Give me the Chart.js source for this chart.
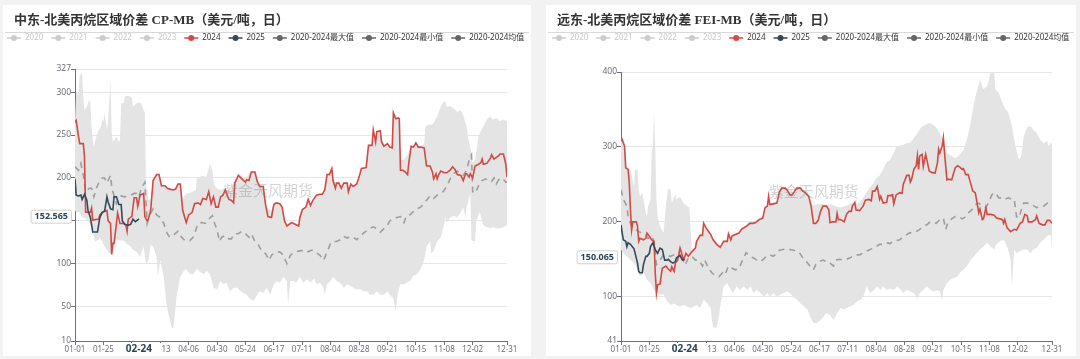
<!DOCTYPE html>
<html lang="zh">
<head>
<meta charset="utf-8">
<title>丙烷区域价差</title>
<script src="https://cdn.jsdelivr.net/npm/chart.js@4.4.1/dist/chart.umd.min.js"></script>
<style>
    html, body { margin: 0; padding: 0; background: #f2f2f2; }
    body { width: 1080px; height: 359px; position: relative; overflow: hidden; }
    .card { position: absolute; top: 5px; height: 351px; background: #fff; }
    #card-cp { left: 3px; width: 528px; }
    #card-fei { left: 546px; width: 530px; }
    canvas { display: block; }
</style>
</head>
<body>
<div class="card" id="card-cp"><canvas id="chart-cp"></canvas></div>
<div class="card" id="card-fei"><canvas id="chart-fei"></canvas></div>
<script>
// x axis: day of year (2024 calendar, day 0 = 01-01)
const xTickDays = [0, 24, 48, 72, 96, 120, 144, 168, 192, 216, 240, 264, 288, 312, 336, 365];
const xTickLabels = ['01-01', '01-25', '02-18', '03-13', '04-06', '04-30', '05-24', '06-17', '07-11',
    '08-04', '08-28', '09-21', '10-15', '11-08', '12-02', '12-31'];

const legendNames = ['2020', '2021', '2022', '2023', '2024', '2025', '2020-2024最大值', '2020-2024最小值', '2020-2024均值'];
const legendColors = ['#cccccc', '#cccccc', '#cccccc', '#cccccc', '#d14a45', '#34495a', '#666666', '#666666', '#666666'];
const legendActive = [false, false, false, false, true, true, true, true, true];

const watermarkText = '紫金天风期货';
const pointerDay = 54;
const pointerDayLabel = '02-24';

// ---- 中东-北美 CP-MB ----
const cpTitle = '中东-北美丙烷区域价差 CP-MB（美元/吨，日）';
const cpYTicks = [10, 50, 100, 150, 200, 250, 300, 327];
const cpPointer = 152.565;

const cp2024 = [[0,265],[1,267],[3,248],[4,240],[7,240],[8,225],[9,160],[13,160],[14,165],[15,151],[20,152],[21,157],
    [24,161],[27,162],[28,150],[30,147],[31,111],[32,124],[33,124],[34,135],[36,159],[38,147],[41,147],[43,145],[44,138],
    [45,152],[48,155],[50,177],[52,177],[53,167],[55,180],[58,182],[59,155],[61,150],[62,152],[64,163],[66,197],[69,204],
    [71,204],[73,191],[76,191],[78,188],[80,187],[83,186],[85,187],[87,193],[89,193],[91,162],[94,148],[96,157],[99,160],
    [101,170],[104,171],[106,169],[108,176],[111,175],[113,184],[115,170],[117,178],[119,166],[121,166],[123,178],[125,180],
    [127,186],[130,175],[132,174],[134,171],[135,194],[138,203],[141,199],[144,195],[145,198],[147,197],[149,207],[152,207],
    [154,196],[156,190],[159,190],[161,169],[163,155],[166,154],[168,169],[170,171],[173,170],[175,166],[177,150],[179,144],
    [183,148],[189,144],[190,154],[192,163],[195,166],[197,175],[199,168],[201,174],[204,180],[207,181],[209,181],[211,186],
    [213,204],[215,204],[217,211],[218,197],[220,188],[221,194],[223,194],[225,188],[227,194],[230,194],[231,184],[233,193],
    [235,190],[238,193],[240,201],[242,211],[246,212],[248,238],[251,238],[252,256],[254,242],[255,254],[258,255],[259,242],
    [261,237],[264,240],[266,236],[268,235],[269,276],[271,269],[273,270],[274,269],[275,209],[277,209],[279,207],[281,204],
    [282,217],[284,237],[286,236],[288,241],[290,236],[292,236],[295,235],[297,214],[300,214],[302,207],[303,199],[305,205],
    [306,199],[307,203],[309,208],[312,206],[314,206],[317,209],[319,213],[321,210],[323,204],[326,203],[328,197],[330,205],
    [331,205],[333,201],[334,205],[336,200],[338,214],[341,216],[343,218],[344,222],[345,216],[348,217],[351,223],[352,227],
    [354,222],[356,224],[358,226],[359,228],[362,228],[364,216],[365,201]];

const cp2025 = [[0,199],[1,180],[3,179],[5,180],[6,175],[7,178],[8,181],[10,174],[11,162],[13,154],[15,137],[19,137],
    [21,154],[22,157],[23,160],[25,161],[27,178],[28,172],[30,164],[32,163],[33,178],[35,178],[37,169],[39,169],[40,150],
    [42,146],[45,145],[47,146],[49,152],[51,149],[53,151],[54,152.565]];

const cpAvg = [[0,213],[3,209],[5,217],[7,203],[9,184],[12,188],[14,188],[16,178],[18,188],[20,194],[23,200],[25,200],
    [27,194],[30,203],[31,190],[32,184],[35,170],[37,176],[39,179],[42,178],[45,179],[47,180],[50,182],[52,182],[54,178],
    [56,188],[59,195],[61,147],[63,156],[66,164],[69,157],[72,154],[75,147],[78,135],[80,131],[83,133],[87,138],[90,131],
    [93,127],[97,127],[100,131],[102,139],[104,147],[107,148],[110,147],[113,152],[116,156],[118,147],[120,140],[122,126],
    [124,131],[127,133],[130,129],[132,129],[135,135],[138,135],[141,138],[144,135],[147,131],[149,135],[152,126],[155,122],
    [158,114],[161,112],[164,104],[166,110],[169,113],[173,114],[176,110],[179,100],[182,110],[186,114],[190,115],[195,116],
    [197,114],[200,116],[204,113],[207,110],[210,104],[213,114],[216,124],[218,126],[221,126],[224,128],[227,132],[230,130],
    [233,132],[235,131],[238,128],[241,132],[244,136],[247,139],[249,141],[252,143],[255,141],[258,137],[261,141],[264,145],
    [266,150],[269,152],[272,154],[275,155],[278,148],[280,156],[283,157],[286,161],[289,164],[292,166],[295,171],[297,174],
    [300,179],[303,176],[306,180],[309,182],[311,184],[314,190],[317,199],[320,205],[323,208],[326,205],[328,203],[331,209],
    [333,221],[335,227],[336,184],[338,182],[341,191],[344,197],[347,199],[350,196],[352,196],[354,200],[356,193],[358,198],
    [361,200],[364,195],[365,195]];

const cpMax = [[0,266],[1,299],[3,300],[4,320],[6,322],[7,295],[8,279],[10,283],[12,291],[13,287],[14,260],[15,244],
    [16,236],[18,248],[20,256],[22,260],[23,268],[24,266],[25,275],[27,256],[28,268],[30,314],[31,252],[32,242],[35,248],
    [37,242],[38,244],[39,287],[41,287],[42,295],[45,296],[48,294],[49,283],[52,287],[54,288],[56,287],[58,279],[59,277],
    [60,190],[61,186],[62,175],[64,175],[66,198],[69,205],[71,205],[73,192],[76,192],[78,189],[80,188],[83,187],[85,188],
    [87,193],[89,193],[91,176],[94,182],[96,182],[99,184],[102,186],[103,201],[105,199],[107,203],[111,201],[113,211],
    [114,217],[116,209],[117,197],[118,191],[120,188],[123,186],[125,187],[127,187],[130,186],[132,184],[134,197],[135,197],
    [138,204],[141,203],[144,199],[147,205],[149,208],[152,208],[154,199],[156,191],[159,191],[161,170],[163,163],[166,163],
    [168,170],[170,172],[173,171],[175,167],[177,152],[179,146],[183,150],[189,146],[190,155],[192,164],[195,167],[197,176],
    [199,170],[201,175],[204,181],[207,182],[209,182],[211,187],[213,205],[215,206],[217,212],[218,200],[220,195],[223,195],
    [225,190],[227,195],[230,195],[231,188],[233,194],[235,191],[238,194],[240,202],[242,212],[246,213],[248,239],[251,239],
    [252,257],[254,244],[255,255],[258,256],[259,243],[261,238],[264,240],[266,237],[268,236],[269,277],[271,270],[273,271],
    [274,270],[275,220],[278,222],[280,225],[282,230],[284,238],[286,237],[288,242],[290,238],[292,237],[295,240],[296,260],
    [299,262],[301,262],[303,264],[306,272],[309,283],[311,288],[313,289],[314,283],[317,284],[320,281],[323,277],[326,279],
    [328,273],[331,260],[332,248],[334,236],[336,217],[338,221],[341,248],[342,252],[345,260],[348,268],[351,272],[353,268],
    [356,270],[359,266],[362,268],[365,266]];

const cpMin = [[0,162],[1,160],[4,160],[6,154],[8,154],[11,150],[14,143],[17,126],[19,127],[21,130],[23,126],[25,120],
    [28,114],[30,111],[32,116],[35,129],[38,127],[41,127],[44,123],[47,120],[49,116],[52,114],[55,108],[58,120],[60,100],
    [62,104],[64,122],[66,120],[69,108],[70,85],[72,104],[75,85],[77,57],[79,41],[82,25],[83,25],[85,49],[86,64],[89,85],
    [92,92],[94,94],[97,88],[100,88],[103,94],[106,90],[109,88],[111,92],[114,88],[117,72],[120,70],[123,80],[125,76],
    [128,78],[131,68],[134,72],[137,72],[140,68],[142,66],[145,64],[148,59],[151,57],[154,64],[156,68],[159,66],[162,72],
    [165,64],[168,76],[171,80],[173,78],[176,85],[179,80],[180,53],[182,80],[185,80],[187,78],[190,85],[193,78],[196,82],
    [199,78],[202,83],[204,76],[207,78],[210,72],[211,64],[213,76],[216,80],[218,85],[221,80],[224,78],[227,72],[230,76],
    [233,74],[235,72],[238,70],[241,70],[244,68],[247,68],[249,64],[252,64],[255,68],[258,64],[261,64],[264,68],[266,64],
    [269,59],[271,45],[273,68],[275,76],[278,76],[280,78],[283,80],[286,86],[289,88],[292,94],[295,104],[297,120],[300,126],
    [301,112],[303,115],[306,126],[309,131],[311,141],[313,154],[314,148],[317,154],[320,156],[323,154],[326,160],[328,166],
    [330,154],[331,166],[334,182],[335,127],[338,126],[339,150],[342,160],[345,145],[348,143],[351,141],[353,143],[356,141],
    [359,141],[362,143],[365,145]];

// ---- 远东-北美 FEI-MB ----
const feiTitle = '远东-北美丙烷区域价差 FEI-MB（美元/吨，日）';
const feiYTicks = [41, 100, 200, 300, 400];
const feiPointer = 150.065;

const fei2024 = [[0,308],[1,310],[3,301],[4,272],[6,270],[7,252],[8,216],[9,189],[10,200],[13,200],[14,194],[15,174],
    [16,178],[19,176],[21,178],[22,185],[24,181],[26,176],[28,174],[29,132],[30,105],[31,116],[33,117],[35,138],[38,141],
    [40,137],[42,134],[43,140],[45,134],[46,145],[48,149],[50,165],[51,160],[53,149],[55,158],[57,154],[60,160],[63,165],
    [64,174],[67,182],[69,182],[70,198],[72,192],[76,183],[78,176],[81,170],[84,166],[87,174],[90,174],[91,184],[93,176],
    [94,181],[97,183],[100,185],[102,190],[104,192],[107,195],[109,198],[112,198],[114,199],[117,203],[120,205],[122,219],
    [124,221],[125,234],[126,223],[129,224],[132,225],[134,239],[136,245],[139,245],[141,242],[143,236],[145,236],[147,241],
    [149,245],[152,245],[154,241],[156,239],[159,234],[161,221],[163,198],[165,198],[167,202],[169,214],[171,221],[174,221],
    [176,216],[177,199],[179,200],[182,200],[183,211],[184,203],[186,203],[189,200],[191,210],[193,214],[195,214],[196,221],
    [198,226],[199,216],[202,215],[205,221],[207,229],[210,230],[212,228],[213,241],[215,241],[217,247],[219,230],[220,234],
    [222,225],[225,226],[226,235],[228,235],[230,236],[231,224],[233,236],[236,239],[238,238],[239,250],[242,262],[244,262],
    [245,253],[246,256],[248,270],[250,275],[251,288],[252,270],[253,288],[255,290],[256,274],[258,290],[259,283],[261,268],
    [263,266],[266,265],[268,279],[269,297],[270,292],[272,301],[273,312],[274,292],[276,256],[277,257],[280,256],[283,272],
    [285,275],[287,273],[289,270],[290,271],[292,263],[294,263],[296,252],[298,241],[300,239],[301,230],[303,212],[304,217],
    [306,203],[307,204],[309,219],[310,210],[313,210],[316,209],[318,205],[321,204],[323,203],[324,198],[325,203],[327,192],
    [330,187],[333,190],[335,189],[336,192],[338,198],[340,200],[342,210],[344,208],[345,200],[348,200],[351,203],[352,208],
    [354,198],[357,196],[359,196],[361,202],[363,202],[365,198]];

const fei2025 = [[0,196],[1,185],[2,176],[4,174],[5,167],[6,172],[8,170],[11,164],[12,158],[14,145],[15,134],[16,132],
    [18,132],[19,143],[21,154],[22,154],[24,158],[25,167],[27,172],[29,163],[31,158],[33,165],[35,163],[37,149],[39,149],
    [40,150],[42,147],[44,145],[46,147],[47,152],[50,155],[52,149],[54,150.065]];

const feiAvg = [[0,243],[2,230],[5,221],[6,207],[9,194],[12,190],[15,187],[18,185],[21,183],[23,178],[26,181],[28,174],
    [30,143],[33,149],[36,156],[39,155],[42,154],[45,156],[48,154],[50,156],[53,149],[55,145],[57,152],[60,154],[63,149],
    [66,149],[69,141],[71,149],[74,138],[77,132],[80,128],[83,127],[86,132],[88,129],[91,141],[94,138],[97,136],[100,138],
    [103,149],[106,159],[109,154],[112,152],[115,149],[117,147],[120,149],[123,154],[126,156],[129,154],[132,158],[134,162],
    [137,163],[140,164],[143,163],[146,162],[148,161],[151,159],[154,152],[157,147],[160,141],[163,136],[165,143],[168,147],
    [171,149],[174,147],[177,145],[180,141],[182,149],[185,150],[188,149],[191,150],[194,152],[196,154],[199,156],[202,156],
    [205,158],[208,161],[211,163],[213,165],[216,167],[219,170],[222,170],[225,172],[228,171],[230,174],[233,175],[236,176],
    [239,180],[242,183],[244,185],[247,186],[250,187],[253,190],[256,194],[259,196],[261,199],[264,200],[267,198],[270,203],
    [273,205],[275,190],[277,200],[280,204],[283,207],[286,207],[289,204],[292,207],[294,212],[297,216],[300,223],[303,225],
    [306,221],[309,219],[311,225],[314,236],[317,239],[320,232],[323,232],[325,230],[328,232],[331,230],[333,230],[335,207],
    [337,205],[339,216],[341,225],[344,225],[347,224],[349,222],[352,219],[355,221],[358,221],[361,225],[364,227],[365,226]];

const feiMax = [[0,310],[1,311],[3,302],[4,283],[5,274],[8,270],[11,248],[12,270],[14,270],[15,243],[16,234],[18,239],
    [19,230],[21,212],[22,207],[23,221],[25,230],[26,292],[27,301],[28,346],[29,301],[30,230],[31,207],[33,194],[36,185],
    [38,221],[39,234],[40,245],[42,243],[43,225],[45,234],[46,236],[47,230],[50,234],[53,225],[56,221],[58,219],[59,186],
    [60,162],[63,167],[64,176],[67,184],[69,184],[70,200],[72,194],[76,185],[78,178],[81,172],[84,168],[87,176],[90,176],
    [91,186],[93,178],[94,183],[97,185],[100,187],[102,192],[104,194],[107,197],[109,200],[112,200],[114,201],[117,205],
    [120,207],[122,221],[124,223],[125,236],[126,225],[129,226],[132,227],[134,241],[136,247],[139,247],[141,244],[143,238],
    [145,238],[147,243],[149,247],[152,247],[154,243],[156,241],[159,236],[161,224],[163,222],[167,224],[171,224],[174,222],
    [177,224],[182,221],[186,219],[191,222],[196,226],[199,224],[202,226],[205,232],[208,240],[211,246],[213,250],[216,258],
    [219,262],[222,270],[225,280],[228,283],[231,292],[233,300],[236,302],[239,303],[242,305],[245,306],[248,312],[251,318],
    [254,326],[258,330],[261,332],[264,330],[267,326],[270,318],[272,312],[273,313],[274,300],[276,292],[280,288],[283,285],
    [287,290],[290,296],[293,310],[296,332],[299,359],[301,372],[304,390],[307,377],[310,381],[313,399],[316,399],[317,377],
    [320,372],[323,359],[325,352],[328,346],[331,328],[334,301],[337,283],[339,288],[341,314],[344,326],[347,328],[349,323],
    [352,319],[355,310],[358,305],[361,308],[362,301],[364,305],[365,305]];

const feiMin = [[0,163],[2,158],[5,154],[8,149],[11,145],[14,136],[16,127],[19,132],[22,123],[25,118],[28,109],[30,105],
    [33,103],[36,103],[39,94],[42,89],[45,91],[47,89],[50,87],[53,89],[56,87],[59,85],[62,87],[64,89],[67,85],[70,96],
    [73,91],[76,85],[77,69],[78,60],[80,58],[81,60],[83,74],[84,87],[86,105],[87,114],[90,118],[93,109],[95,105],[98,114],
    [101,109],[104,114],[107,109],[110,114],[112,105],[115,109],[118,105],[121,100],[124,105],[126,100],[129,105],[132,100],
    [135,103],[138,105],[141,107],[143,105],[146,100],[149,96],[152,91],[155,87],[158,83],[160,74],[163,65],[166,65],
    [169,69],[172,74],[174,78],[177,76],[180,69],[183,78],[186,85],[189,83],[191,85],[194,87],[197,89],[200,94],[203,96],
    [206,103],[208,114],[211,105],[214,109],[217,114],[220,109],[222,114],[225,109],[228,111],[231,109],[234,114],[237,109],
    [239,105],[242,109],[245,107],[248,105],[251,98],[253,105],[256,109],[259,114],[262,109],[265,107],[268,109],[270,107],
    [272,96],[273,109],[276,118],[279,123],[282,125],[285,127],[287,132],[290,136],[293,141],[296,149],[299,154],[301,158],
    [304,163],[307,167],[310,172],[313,167],[316,163],[318,170],[321,174],[324,176],[327,167],[330,149],[331,114],[333,163],
    [335,158],[338,161],[341,163],[344,163],[347,158],[349,163],[352,165],[355,172],[358,176],[361,181],[364,183],[365,163]];

const AXIS_LINE = '#6e7079';
const AXIS_TEXT = '#6e7079';
const GRID = '#e6e6e6';
const BAND = '#e4e4e4';
const COLOR_2024 = '#d14a45';
const COLOR_2025 = '#34495a';
const COLOR_AVG = '#9e9e9e';

Chart.defaults.font.family = '"Noto Sans", "Noto Sans CJK SC", sans-serif';

function toPoints(pairs) {
    return pairs.map(p => ({ x: p[0], y: p[1] }));
}

// title, separator, legend, watermark and the crosshair labels
const panelDecor = {
    id: 'panelDecor',
    beforeDraw(chart, args, o) {
        const ctx = chart.ctx;
        ctx.save();
        ctx.textBaseline = 'middle';
        ctx.fillStyle = '#333';
        ctx.font = 'bold 13px "Liberation Serif", "Noto Sans CJK SC", serif';
        ctx.fillText(o.title, o.titleX, 16);

        ctx.strokeStyle = '#d9d9d9';
        ctx.lineWidth = 1;
        ctx.beginPath();
        ctx.moveTo(2, 27.5);
        ctx.lineTo(chart.width - 2, 27.5);
        ctx.stroke();

        ctx.font = '8px "Noto Sans", "Noto Sans CJK SC", sans-serif';
        let x = o.legendX;
        const y = 33;
        legendNames.forEach((name, i) => {
            const c = legendColors[i];
            ctx.strokeStyle = c;
            ctx.lineWidth = 1.5;
            ctx.beginPath();
            ctx.moveTo(x, y);
            ctx.lineTo(x + 14, y);
            ctx.stroke();
            ctx.fillStyle = c;
            ctx.beginPath();
            ctx.arc(x + 7, y, 3, 0, Math.PI * 2);
            ctx.fill();
            ctx.fillStyle = legendActive[i] ? '#333' : '#c8c8c8';
            ctx.fillText(name, x + 18, y);
            x += 18 + ctx.measureText(name).width + 8;
        });
        ctx.restore();
    },
    afterDatasetsDraw(chart) {
        const { ctx, chartArea: a } = chart;
        ctx.save();
        ctx.font = '15px "Noto Sans CJK SC", sans-serif';
        ctx.fillStyle = 'rgba(120,120,120,0.32)';
        ctx.textAlign = 'center';
        ctx.textBaseline = 'middle';
        ctx.fillText(watermarkText, a.left + a.width * 0.447, a.top + a.height * 0.445);
        ctx.restore();
    },
    afterDraw(chart, args, o) {
        const { ctx, chartArea: a } = chart;
        const xs = chart.scales.x;
        const ys = chart.scales.y;
        ctx.save();
        ctx.textAlign = 'center';
        ctx.textBaseline = 'middle';

        // y pointer label
        const py = ys.getPixelForValue(o.pointerValue) - 2;
        const txt = o.pointerValue.toFixed(3);
        ctx.font = 'bold 9px "Noto Sans", sans-serif';
        const w = ctx.measureText(txt).width + 7;
        const bx = a.left - 4 - w;
        ctx.fillStyle = '#fff';
        ctx.strokeStyle = '#d0d0d0';
        ctx.lineWidth = 1;
        ctx.beginPath();
        ctx.roundRect(bx + 0.5, py - 6.5, w, 13, 2);
        ctx.fill();
        ctx.stroke();
        ctx.fillStyle = '#2f4554';
        ctx.fillText(txt, bx + w / 2 + 0.5, py);

        // x pointer label
        const px = xs.getPixelForValue(pointerDay);
        ctx.font = 'bold 10px "Noto Sans", sans-serif';
        const tw = ctx.measureText(pointerDayLabel).width + 18;
        ctx.fillStyle = '#fff';
        ctx.fillRect(px - tw / 2, a.bottom + 2, tw, 13);
        ctx.fillStyle = '#2f4554';
        ctx.fillText(pointerDayLabel, px, a.bottom + 8.5);
        ctx.restore();
    }
};

function makeChart(canvasId, s) {
    const ctx = document.getElementById(canvasId).getContext('2d');
    return new Chart(ctx, {
        type: 'line',
        data: {
            datasets: [
                { label: '2025', data: toPoints(s.y2025), borderColor: COLOR_2025, borderWidth: 1.6, order: 0 },
                { label: '2024', data: toPoints(s.y2024), borderColor: COLOR_2024, borderWidth: 1.6, order: 1 },
                { label: '2020-2024均值', data: toPoints(s.avg), borderColor: COLOR_AVG, borderWidth: 1.6,
                  borderDash: [6, 5], order: 2 },
                { label: '2020-2024最大值', data: toPoints(s.max), borderColor: 'rgba(0,0,0,0)', borderWidth: 0,
                  backgroundColor: BAND, fill: '+1', order: 3 },
                { label: '2020-2024最小值', data: toPoints(s.min), borderColor: 'rgba(0,0,0,0)', borderWidth: 0,
                  order: 4 }
            ]
        },
        options: {
            responsive: true,
            maintainAspectRatio: false,
            animation: false,
            events: [],
            layout: { padding: { top: s.plotTop, right: 24, left: 0, bottom: 0 } },
            elements: { point: { radius: 0 }, line: { tension: 0 } },
            plugins: {
                legend: { display: false },
                tooltip: { enabled: false },
                panelDecor: {
                    title: s.title,
                    titleX: 11,
                    legendX: s.legendX,
                    pointerValue: s.pointer
                }
            },
            scales: {
                x: {
                    type: 'linear',
                    min: 0,
                    max: 365,
                    afterBuildTicks: sc => { sc.ticks = xTickDays.map(v => ({ value: v })); },
                    afterFit: sc => { sc.height = 15; },
                    ticks: {
                        autoSkip: false,
                        maxRotation: 0,
                        padding: 0,
                        color: AXIS_TEXT,
                        font: { size: 8 },
                        callback: (v, i) => xTickLabels[i]
                    },
                    grid: { drawOnChartArea: false, tickLength: 4, tickColor: AXIS_LINE },
                    border: { color: AXIS_LINE }
                },
                y: {
                    type: 'linear',
                    min: s.yTicks[0],
                    max: s.yTicks[s.yTicks.length - 1],
                    afterBuildTicks: sc => { sc.ticks = s.yTicks.map(v => ({ value: v })); },
                    afterFit: sc => { sc.width = s.yWidth; },
                    ticks: { padding: 0, color: AXIS_TEXT, font: { size: 8.5 } },
                    grid: { color: GRID, tickLength: 4, tickColor: AXIS_LINE },
                    border: { color: AXIS_LINE }
                }
            }
        },
        plugins: [panelDecor]
    });
}

makeChart('chart-cp', {
    title: cpTitle, legendX: 4, plotTop: 64, yWidth: 72, yTicks: cpYTicks, pointer: cpPointer,
    y2024: cp2024, y2025: cp2025, avg: cpAvg, max: cpMax, min: cpMin
});

makeChart('chart-fei', {
    title: feiTitle, legendX: 6, plotTop: 67, yWidth: 75, yTicks: feiYTicks, pointer: feiPointer,
    y2024: fei2024, y2025: fei2025, avg: feiAvg, max: feiMax, min: feiMin
});
</script>
</body>
</html>
